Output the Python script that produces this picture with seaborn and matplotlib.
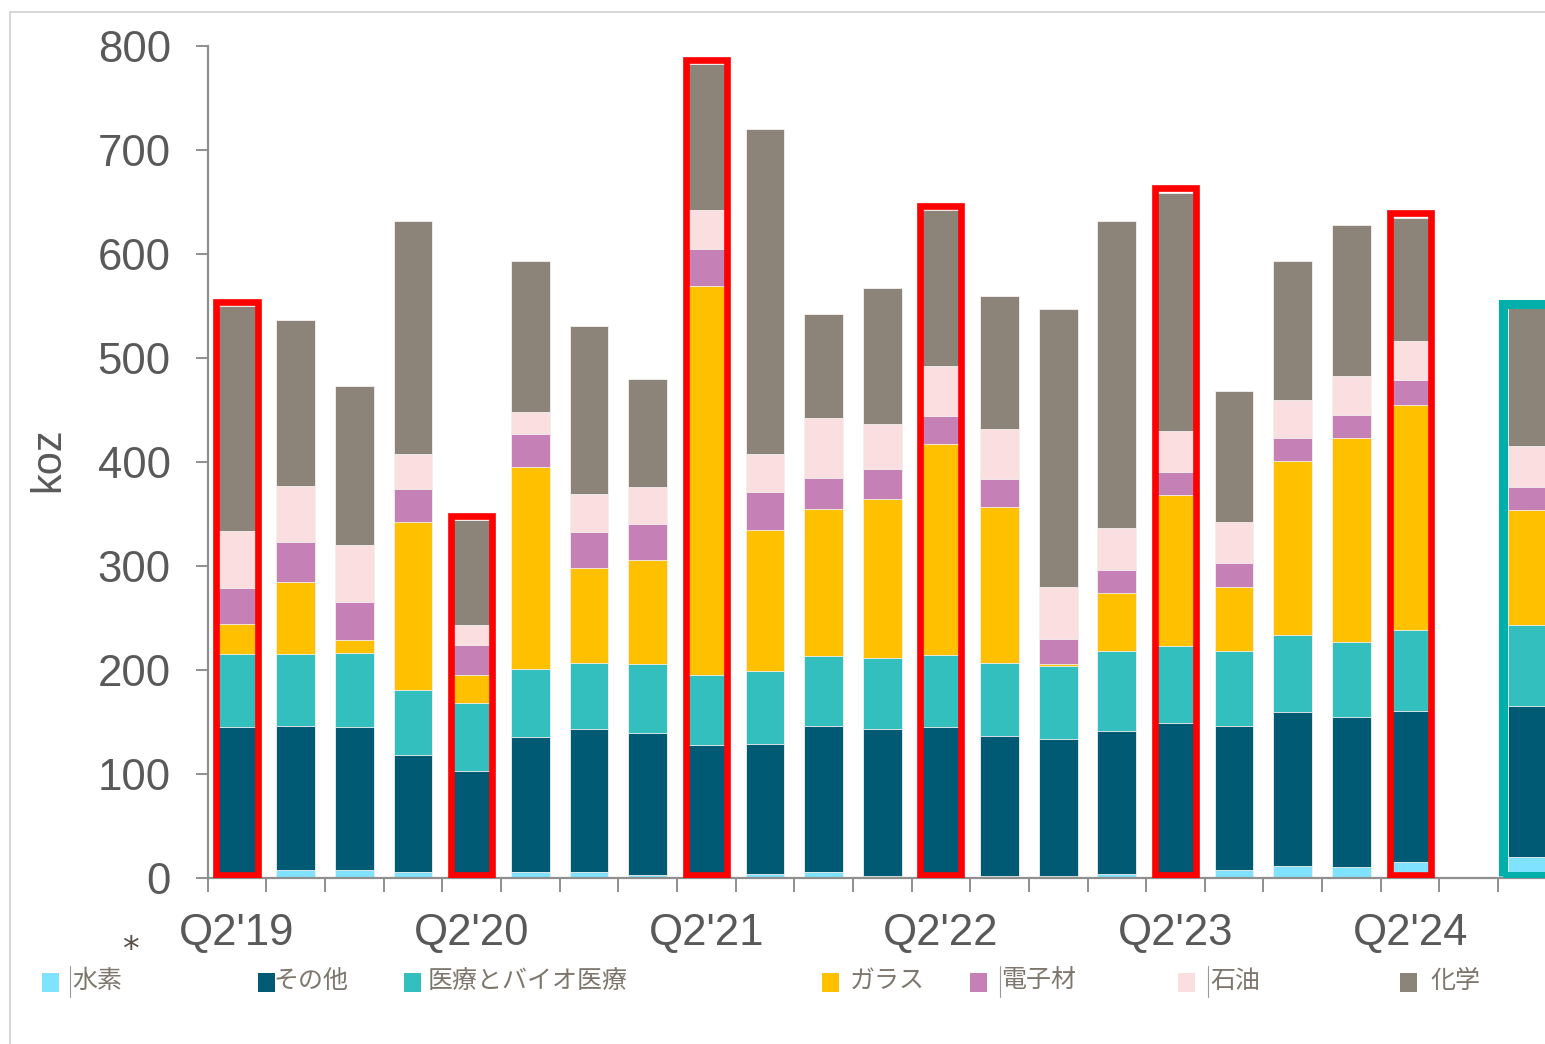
import numpy as np
import pandas as pd
import matplotlib
matplotlib.use("Agg")
import matplotlib.pyplot as plt
import seaborn as sns
from matplotlib.patches import Rectangle
from matplotlib.lines import Line2D

# ---------------- data ----------------
quarters = ["Q2'19", "Q3'19", "Q4'19", "Q1'20", "Q2'20", "Q3'20", "Q4'20", "Q1'21",
            "Q2'21", "Q3'21", "Q4'21", "Q1'22", "Q2'22", "Q3'22", "Q4'22", "Q1'23",
            "Q2'23", "Q3'23", "Q4'23", "Q1'24", "Q2'24", "Q3'24", "Q4'24"]
nan = np.nan
hydrogen   = [5, 8, 8, 6, 2, 6, 6, 3, 2, 4, 6, 2, 2, 2, 2, 4, 2, 8, 12, 11, 15, nan, 20]
other      = [140, 138, 137, 112, 101, 130, 137, 136, 126, 125, 140, 141, 143, 135, 132, 137, 147, 138, 148, 144, 146, nan, 145]
medical    = [70, 69, 71, 63, 65, 65, 64, 67, 67, 70, 67, 69, 69, 70, 70, 77, 74, 72, 74, 72, 77, nan, 78]
glass      = [29, 70, 13, 161, 27, 194, 91, 100, 374, 136, 142, 152, 203, 150, 2, 56, 145, 62, 167, 196, 217, nan, 111]
electrical = [35, 38, 36, 32, 29, 32, 35, 34, 36, 36, 30, 29, 27, 27, 24, 22, 22, 23, 22, 22, 24, nan, 22]
petroleum  = [55, 54, 55, 34, 19, 21, 36, 36, 37, 37, 57, 44, 48, 48, 50, 41, 40, 39, 37, 38, 37, nan, 39]
chemical   = [216, 160, 153, 224, 101, 145, 162, 104, 141, 312, 100, 130, 150, 128, 267, 295, 229, 126, 133, 145, 119, nan, 133]

series_names = ["水素", "その他", "医療とバイオ医療", "ガラス", "電子材", "石油", "化学"]
series_vals = [hydrogen, other, medical, glass, electrical, petroleum, chemical]
series_colors = ["#7FE3FF", "#005A73", "#33BFBD", "#FFC000", "#C580B5", "#FADEE0", "#8C8479"]

xtick_labels = ["Q2'19", "Q2'20", "Q2'21", "Q2'22", "Q2'23", "Q2'24"]
red_highlight = ["Q2'19", "Q2'20", "Q2'21", "Q2'22", "Q2'23", "Q2'24"]
teal_highlight = ["Q4'24"]

# ---------------- figure ----------------
W, H = 1545, 1044
sns.set_theme(style="white")
plt.rcParams['font.family'] = ['Liberation Sans', 'Noto Sans CJK JP', 'DejaVu Sans']

fig = plt.figure(figsize=(W / 100, H / 100), dpi=100)
ax = fig.add_axes([207.7 / W, (H - 878) / H, (W - 207.7) / W, (878 - 46) / H])

df = pd.DataFrame({"quarter": quarters})
cum = np.zeros(len(quarters))
cum_cols = []
for name, vals in zip(series_names, series_vals):
    cum = cum + np.array(vals, dtype=float)
    df[name] = cum
    cum_cols.append(name)

# draw top-down so the lower cumulative layers overlay
for name, color in reversed(list(zip(cum_cols, series_colors))):
    sns.barplot(data=df, x="quarter", y=name, order=quarters, color=color,
                saturation=1, width=0.66, errorbar=None, ax=ax,
                edgecolor="#f4f0ee", linewidth=0.6)

totals = df[cum_cols[-1]].values
pos = {q: i for i, q in enumerate(quarters)}

for q in red_highlight:
    i = pos[q]
    ax.add_patch(Rectangle((i - 0.35, 3), 0.70, totals[i] + 1, fill=False,
                           edgecolor="#FF0000", linewidth=4.8, zorder=6))
for q in teal_highlight:
    i = pos[q]
    ax.add_patch(Rectangle((i - 0.42, 2), 0.84, totals[i] + 2, fill=False,
                           edgecolor="#00AFAA", linewidth=6.5, zorder=6))

ax.set_ylim(0, 800)
ax.set_xlim(-0.5, 22.3)
ax.set_yticks(np.arange(0, 801, 100))
ax.set_xticks([pos[q] for q in xtick_labels])
ax.set_xticklabels(xtick_labels)
ax.set_xticks(np.arange(-0.5, len(quarters) - 0.5, 1), minor=True)
ax.set_xlabel("")
ax.set_ylabel("")

for s in ["top", "right"]:
    ax.spines[s].set_visible(False)
for s in ["left", "bottom"]:
    ax.spines[s].set_color("#8f8f8f")
    ax.spines[s].set_linewidth(1.6)

ax.tick_params(axis="y", which="major", length=8.6, width=1.4, color="#8f8f8f",
               pad=18, labelsize=31.5, labelcolor="#595959", left=True, direction="out")
ax.tick_params(axis="x", which="major", length=0, pad=25, labelsize=31.5,
               labelcolor="#595959")
ax.tick_params(axis="x", which="minor", length=10, width=1.4, color="#8f8f8f",
               bottom=True, direction="out")

fig.text(48 / W, 1 - 460 / H, "koz", rotation=90, fontsize=30, color="#595959",
         ha="center", va="center")

# outer chart frame
fig.add_artist(Line2D([10 / W, 10 / W], [0, 1 - 12 / H], transform=fig.transFigure,
                      color="#cfcfcf", linewidth=1.2))
fig.add_artist(Line2D([10 / W, 1], [1 - 12 / H, 1 - 12 / H], transform=fig.transFigure,
                      color="#cfcfcf", linewidth=1.2))

# legend (manual layout)
legend_marker_x = [42, 258, 404, 822, 970, 1178, 1400]
legend_text_x = [72, 273, 428, 850, 1001, 1210, 1430]
legend_y = 981
for name, color, mx, tx in zip(series_names, series_colors, legend_marker_x, legend_text_x):
    fig.add_artist(Rectangle((mx / W, 1 - 992 / H), 17 / W, 19 / H,
                             transform=fig.transFigure, facecolor=color,
                             edgecolor="none"))
    fig.text(tx / W, 1 - legend_y / H, name, fontsize=18, color="#7d766d",
             ha="left", va="center", family=['Noto Sans CJK JP', 'DejaVu Sans'])

for lx in [70, 1000, 1208]:
    fig.add_artist(Line2D([lx / W, lx / W], [1 - 997 / H, 1 - 966 / H],
                          transform=fig.transFigure, color="#9a9a9a", linewidth=0.8))

fig.text(130 / W, 1 - 950 / H, "*", fontsize=24, color="#5a5048",
         ha="center", va="center", family=['DejaVu Sans'])

fig.savefig("out.png", dpi=100)
